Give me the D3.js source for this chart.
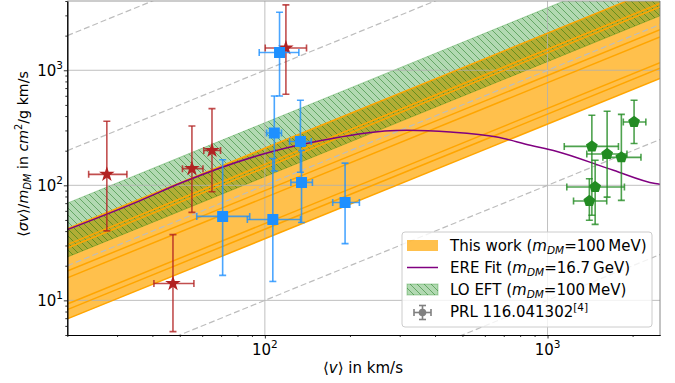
<!DOCTYPE html>
<html><head><meta charset="utf-8">
<script src="https://cdn.jsdelivr.net/npm/d3@7"></script>
<style>body{margin:0;background:#fff}svg{display:block}text{font-family:"DejaVu Sans",sans-serif}</style>
</head><body><svg id="c" width="675" height="383"></svg>
<script>
// ---------------- data ----------------
const xDomain = [20, 2500];
const yDomain = [5, 4000];
const xMajorTicks = [100, 1000];
const xMinorTicks = [20,30,40,50,60,70,80,90,200,300,400,500,600,700,800,900,2000];
const yMajorTicks = [10, 100, 1000];
const yMinorTicks = [5,6,7,8,9,20,30,40,50,60,70,80,90,200,300,400,500,600,700,800,900,2000,3000,4000];
const tickBase = "10";
const xTickExp = ["2","3"];
const yTickExp = ["1","2","3"];

// straight lines (log-log) given by their values at the two ends of the v range
const lineEnds = [20, 2500];
const orangeLines = [[42, 5250],[30.5, 3800],[28.5, 3550],[18, 2250],[15.7, 1950],[9.3, 1165],[8.3, 1040],[6.9, 850]];
const orangeBand = [[6.9, 850],[42, 5250]];          // lower, upper
const greenBand = [[23.8, 2975],[70, 8750]];           // lower, upper
const guideLines = [[2000, 250000],[200, 25000],[20, 2500],[2, 250],[0.2, 25]];

// ERE fit curve
const ereV = [20, 36.4, 50.4, 104.7, 185, 218, 318, 453, 662, 869, 1065, 1711, 2403, 2500];
const ereY = [41.2, 74, 104.7, 195, 263, 281, 301, 291, 263, 223, 199, 135, 103.5, 102];

// data points with error bars
const redV   = [27.6, 55.2, 65.0, 47.3, 118.7];
const redY   = [124.6, 139.6, 201, 14.0, 1563];
const redVLo = [23.8, 51.1, 60.8, 40.5, 100.3];
const redVHi = [32.5, 60.4, 69.7, 56.1, 140.4];
const redYLo = [40.2, 58.2, 88, 5.35, 618];
const redYHi = [360, 328, 464, 37.3, 3700];

const blueV   = [112.7, 108, 133.6, 70.9, 106.7, 134.8, 192.2];
const blueY   = [1425, 285, 240, 53.7, 50.4, 106, 70.8];
const blueVLo = [95.5, 101.4, 122.3, 57.4, 86.7, 123.6, 173.8];
const blueVHi = [131.9, 114.5, 145.9, 88.4, 133.7, 147.3, 216];
const blueYLo = [598, 133, 130, 16.5, 14.6, 47.5, 31.1];
const blueYHi = [3192, 598, 548, 167, 171, 201, 156];

const greenV   = [2024, 1435, 1625, 1825, 1474, 1406];
const greenY   = [355, 218, 187, 175, 96.6, 73];
const greenVLo = [1854, 1146, 1377, 1570, 1170, 1236];
const greenVHi = [2228, 1782, 1910, 2141, 1871, 1620];
const greenYLo = [231, 55, 79, 74, 45.8, 49.7];
const greenYHi = [548, 406, 440, 414, 165, 114];

// ---------------- drawing ----------------
const svg = d3.select("#c");
const L = 67.3, R = 660, T = 1, B = 335;
const x = d3.scaleLog().domain(xDomain).range([L, R]);
const y = d3.scaleLog().domain(yDomain).range([B, T]);

const defs = svg.append("defs");
defs.append("clipPath").attr("id","clip").append("rect").attr("x",L).attr("y",T).attr("width",R-L).attr("height",B-T);
const hatch = defs.append("pattern").attr("id","hatch").attr("patternUnits","userSpaceOnUse").attr("width",7).attr("height",7);
hatch.append("path").attr("d","M0,0L7,7M-1,6L1,8M6,-1L8,1").attr("stroke","rgba(0,100,0,0.55)").attr("stroke-width",0.8);

const plot = svg.append("g").attr("clip-path","url(#clip)");

function bandPath(band){
  const lo = band[0], hi = band[1];
  return "M"+x(lineEnds[0])+","+y(lo[0])+"L"+x(lineEnds[1])+","+y(lo[1])+
         "L"+x(lineEnds[1])+","+y(hi[1])+"L"+x(lineEnds[0])+","+y(hi[0])+"Z";
}
// fills
plot.append("path").attr("d",bandPath(orangeBand)).attr("fill","rgba(255,165,0,0.7)");
plot.append("path").attr("d",bandPath(greenBand)).attr("fill","rgba(0,128,0,0.3)").attr("stroke","rgba(0,128,0,0.3)");
plot.append("path").attr("d",bandPath(greenBand)).attr("fill","url(#hatch)");

// grid
const grid = plot.append("g").attr("stroke","#b0b0b0").attr("stroke-width",0.8);
xMajorTicks.forEach(v=>grid.append("line").attr("x1",x(v)).attr("x2",x(v)).attr("y1",T).attr("y2",B));
yMajorTicks.forEach(v=>grid.append("line").attr("y1",y(v)).attr("y2",y(v)).attr("x1",L).attr("x2",R));

// guide dashed lines
guideLines.forEach(g=>plot.append("line").attr("x1",x(lineEnds[0])).attr("y1",y(g[0])).attr("x2",x(lineEnds[1])).attr("y2",y(g[1]))
  .attr("stroke","#bdbdbd").attr("stroke-width",1.2).attr("stroke-dasharray","6,3"));

// orange lines
orangeLines.forEach(g=>plot.append("line").attr("x1",x(lineEnds[0])).attr("y1",y(g[0])).attr("x2",x(lineEnds[1])).attr("y2",y(g[1]))
  .attr("stroke","#FFA500").attr("stroke-width",1.5));

// ERE curve
const ere = ereV.map((v,i)=>[x(v), y(ereY[i])]);
plot.append("path").attr("d", d3.line().curve(d3.curveMonotoneX)(ere)).attr("fill","none").attr("stroke","#800080").attr("stroke-width",1.5);

// error bars
function errbars(V,Y,VLo,VHi,YLo,YHi,color,symbol){
  const g = plot.append("g");
  const eb = g.append("g").attr("stroke",color).attr("stroke-width",1.6).attr("stroke-opacity",0.8);
  V.forEach((v,i)=>{
    const cx=x(v), cy=y(Y[i]), x0=x(VLo[i]), x1=x(VHi[i]), y0=y(YLo[i]), y1=y(YHi[i]);
    eb.append("line").attr("x1",x0).attr("x2",x1).attr("y1",cy).attr("y2",cy);
    eb.append("line").attr("x1",cx).attr("x2",cx).attr("y1",y0).attr("y2",y1);
    eb.append("line").attr("x1",x0).attr("x2",x0).attr("y1",cy-3.5).attr("y2",cy+3.5);
    eb.append("line").attr("x1",x1).attr("x2",x1).attr("y1",cy-3.5).attr("y2",cy+3.5);
    eb.append("line").attr("x1",cx-3.5).attr("x2",cx+3.5).attr("y1",y0).attr("y2",y0);
    eb.append("line").attr("x1",cx-3.5).attr("x2",cx+3.5).attr("y1",y1).attr("y2",y1);
  });
  V.forEach((v,i)=>{
    g.append("path").attr("d",symbol).attr("transform","translate("+x(v)+","+y(Y[i])+")").attr("fill",color);
  });
}
const pentagon = (()=>{const r=6.2;let p=[];for(let k=0;k<5;k++){const a=-Math.PI/2+k*2*Math.PI/5;p.push([r*Math.cos(a),r*Math.sin(a)]);}return "M"+p.map(q=>q.join(",")).join("L")+"Z";})();
errbars(redV,redY,redVLo,redVHi,redYLo,redYHi,"#B22222",d3.symbol(d3.symbolStar,75)());
errbars(blueV,blueY,blueVLo,blueVHi,blueYLo,blueYHi,"#1E90FF",d3.symbol(d3.symbolSquare,121)());
errbars(greenV,greenY,greenVLo,greenVHi,greenYLo,greenYHi,"#228B22",pentagon);

// frame
svg.append("line").attr("x1",L).attr("x2",R).attr("y1",T).attr("y2",T).attr("stroke","#999").attr("stroke-width",1);
svg.append("line").attr("x1",R).attr("x2",R).attr("y1",T).attr("y2",B).attr("stroke","#888").attr("stroke-width",1);

// axes
const xa = svg.append("g").attr("transform","translate(0,"+B+")");
xa.call(d3.axisBottom(x).tickValues(xMajorTicks).tickFormat("").tickSize(3.5).tickSizeOuter(0));
xa.append("g").call(d3.axisBottom(x).tickValues(xMinorTicks).tickFormat("").tickSize(2).tickSizeOuter(0));
const ya = svg.append("g").attr("transform","translate("+L+",0)");
ya.call(d3.axisLeft(y).tickValues(yMajorTicks).tickFormat("").tickSize(3.5).tickSizeOuter(0));
ya.append("g").call(d3.axisLeft(y).tickValues(yMinorTicks).tickFormat("").tickSize(2).tickSizeOuter(0));
svg.selectAll(".domain").attr("stroke","#000").attr("stroke-width",1);
svg.selectAll(".tick line").attr("stroke","#000").attr("stroke-width",0.8);

function supText(sel, base, exp, fs){
  sel.append("tspan").text(base);
  sel.append("tspan").attr("dy",-fs*0.45).attr("font-size",fs*0.7).text(exp);
}
const fs = 15;
xMajorTicks.forEach((v,i)=>{
  const t = svg.append("text").attr("x",x(v)).attr("y",355).attr("text-anchor","middle").attr("font-size",fs);
  supText(t, tickBase, xTickExp[i], fs);
});
yMajorTicks.forEach((v,i)=>{
  const t = svg.append("text").attr("x",63).attr("y",y(v)+5.5).attr("text-anchor","end").attr("font-size",fs);
  supText(t, tickBase, yTickExp[i], fs);
});

// axis labels
const xl = svg.append("text").attr("x",363).attr("y",373).attr("text-anchor","middle").attr("font-size",fs);
xl.append("tspan").text("⟨");
xl.append("tspan").attr("font-style","italic").text("v");
xl.append("tspan").text("⟩ in km/s");

const yfs = 14.2;
const yl = svg.append("text").attr("transform","translate(27.5,154) rotate(-90)").attr("text-anchor","middle").attr("font-size",yfs);
yl.append("tspan").text("⟨");
yl.append("tspan").attr("font-style","italic").text("σv");
yl.append("tspan").text("⟩/");
yl.append("tspan").attr("font-style","italic").text("m");
yl.append("tspan").attr("font-style","italic").attr("font-size",yfs*0.7).attr("dy",3).text("DM");
yl.append("tspan").attr("dy",-3).text(" in ");
yl.append("tspan").attr("font-style","italic").text("cm");
yl.append("tspan").attr("font-size",yfs*0.7).attr("dy",-6).text("2");
yl.append("tspan").attr("dy",6).text("/g km/s");

// legend
const lg = svg.append("g");
lg.append("rect").attr("x",402).attr("y",232).attr("width",250).attr("height",95).attr("rx",3)
  .attr("fill","rgba(255,255,255,0.8)").attr("stroke","#cccccc").attr("stroke-width",1);
const rows = [245.5, 267.5, 289.5, 311.5];
lg.append("rect").attr("x",407).attr("y",rows[0]-5.5).attr("width",31).attr("height",11).attr("fill","rgba(255,165,0,0.7)");
lg.append("line").attr("x1",407).attr("x2",438).attr("y1",rows[1]).attr("y2",rows[1]).attr("stroke","#800080").attr("stroke-width",1.5);
lg.append("rect").attr("x",407).attr("y",rows[2]-5.5).attr("width",31).attr("height",11).attr("fill","rgba(0,128,0,0.3)").attr("stroke","rgba(0,128,0,0.3)");
lg.append("rect").attr("x",407).attr("y",rows[2]-5.5).attr("width",31).attr("height",11).attr("fill","url(#hatch)");
const pm = lg.append("g").attr("stroke","#808080").attr("stroke-width",1.6);
pm.append("line").attr("x1",414).attr("x2",431).attr("y1",rows[3]+1).attr("y2",rows[3]+1);
pm.append("line").attr("x1",422.5).attr("x2",422.5).attr("y1",rows[3]-6).attr("y2",rows[3]+8);
pm.append("line").attr("x1",414).attr("x2",414).attr("y1",rows[3]-2.5).attr("y2",rows[3]+4.5);
pm.append("line").attr("x1",431).attr("x2",431).attr("y1",rows[3]-2.5).attr("y2",rows[3]+4.5);
pm.append("line").attr("x1",419).attr("x2",426).attr("y1",rows[3]-6).attr("y2",rows[3]-6);
pm.append("line").attr("x1",419).attr("x2",426).attr("y1",rows[3]+8).attr("y2",rows[3]+8);
lg.append("circle").attr("cx",422.5).attr("cy",rows[3]+1).attr("r",3.8).attr("fill","#808080");

function legendMass(t, pre, val){
  t.append("tspan").text(pre+" (");
  t.append("tspan").attr("font-style","italic").text("m");
  t.append("tspan").attr("font-style","italic").attr("font-size",fs*0.7).attr("dy",3).text("DM");
  t.append("tspan").attr("dy",-3).text("=" + val + ")");
}
const legendLabels = ["This work", "ERE Fit", "LO EFT"];
const legendMasses = ["100\u2009MeV", "16.7\u2009GeV", "100\u2009MeV"];
legendLabels.forEach((s,i)=>{
  const t = lg.append("text").attr("x",450).attr("y",rows[i]+5.5).attr("font-size",fs);
  legendMass(t, s, legendMasses[i]);
});
const pt = lg.append("text").attr("x",450).attr("y",rows[3]+5.5).attr("font-size",fs);
pt.append("tspan").text("PRL 116.041302");
pt.append("tspan").attr("font-size",fs*0.7).attr("dy",-6).text("[4]");
</script></body></html>
